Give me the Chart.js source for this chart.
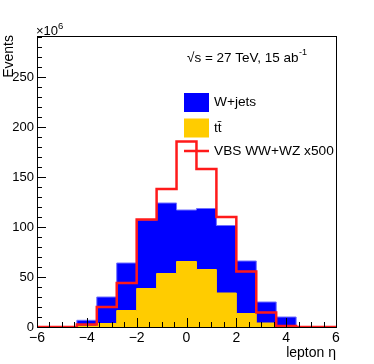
<!DOCTYPE html>
<html>
<head>
<meta charset="utf-8">
<script src="https://cdn.jsdelivr.net/npm/chart.js@4"></script>
<style>
  html, body { margin: 0; padding: 0; background: #fff; }
  #wrap { width: 374px; height: 364px; }
</style>
</head>
<body>
<div id="wrap"><canvas id="myChart" width="374" height="364"></canvas></div>
<script>
// lepton eta, 15 bins of 0.8 from -6 to 6
const binEdges = [-6, -5.2, -4.4, -3.6, -2.8, -2.0, -1.2, -0.4, 0.4, 1.2, 2.0, 2.8, 3.6, 4.4, 5.2, 6];
const ttbar = [0, 0, 1, 3.5, 16.5, 38.5, 53.5, 65.5, 57.5, 34, 13.5, 4, 0.5, 0, 0];
const wjets = [0, 0, 5.7, 26.5, 47.5, 68.5, 70.5, 51.5, 61, 67.5, 52.5, 21, 9.5, 0, 0];
const vbs = [0, 0, 2.5, 20, 44, 107.5, 138, 185.5, 158, 110, 55.5, 14.5, 1, 0, 0];
const xTicks = [-6, -4, -2, 0, 2, 4, 6];
const yTicks = [0, 50, 100, 150, 200, 250];

const FONT = 'Liberation Sans, Arial, Helvetica, sans-serif';

// histogram -> step points (left edge of each bin + closing right edge)
function steps(vals) {
  const pts = vals.map((v, i) => ({ x: binEdges[i], y: v }));
  pts.push({ x: binEdges[binEdges.length - 1], y: vals[vals.length - 1] });
  return pts;
}
const stackTotal = wjets.map((v, i) => v + ttbar[i]);

const data = {
  datasets: [
    {
      label: 'VBS WW+WZ x500',
      data: steps(vbs),
      borderColor: '#ff1a1a',
      borderWidth: 2.5,
      fill: false
    },
    {
      label: 'tt\u0304',
      data: steps(ttbar),
      borderColor: '#ffcc00',
      backgroundColor: '#ffcc00',
      borderWidth: 1,
      fill: 'origin'
    },
    {
      label: 'W+jets',
      data: steps(stackTotal),
      borderColor: '#7070ff',
      backgroundColor: '#0000ff',
      borderWidth: 1,
      fill: 'origin'
    }
  ]
};

// ROOT style frame, inward ticks, legend and labels
const rootDecor = {
  id: 'rootDecor',
  afterDraw(chart) {
    const ctx = chart.ctx;
    const a = chart.chartArea;
    const xs = chart.scales.x, ys = chart.scales.y;
    const L = Math.round(a.left), R = Math.round(a.right);
    const T = Math.round(a.top), B = Math.round(a.bottom);
    ctx.save();
    ctx.fillStyle = '#000';
    // frame
    ctx.fillRect(L, T, R - L, 1);
    ctx.fillRect(L, B, R - L + 1, 1);
    ctx.fillRect(L, T, 1, B - T);
    ctx.fillRect(R, T, 1, B - T);
    // y ticks
    for (let v = 0; v <= ys.max; v += 10) {
      const py = Math.round(ys.getPixelForValue(v));
      const len = v % 50 === 0 ? 9 : 5;
      ctx.fillRect(L, py, len, 1);
    }
    // x ticks
    for (let i = 0; i <= 24; i++) {
      const v = -6 + i * 0.5;
      const px = Math.min(Math.round(xs.getPixelForValue(v)), R);
      const len = i % 4 === 0 ? 9 : 5;
      ctx.fillRect(px, B - len, 1, len);
    }

    // exponent
    ctx.textBaseline = 'alphabetic';
    ctx.textAlign = 'left';
    ctx.font = '13px ' + FONT;
    ctx.fillText('\u00d710', 36, 35);
    ctx.font = '9.5px ' + FONT;
    ctx.fillText('6', 58, 29);

    // axis titles
    ctx.font = '14px ' + FONT;
    ctx.textAlign = 'right';
    ctx.fillText('lepton \u03b7', 336, 357);
    ctx.save();
    ctx.translate(13, 35);
    ctx.rotate(-Math.PI / 2);
    ctx.fillText('Events', 0, 0);
    ctx.restore();

    // energy / lumi
    ctx.textAlign = 'left';
    ctx.font = '13.5px ' + FONT;
    ctx.fillText('\u221as = 27 TeV, 15 ab', 187, 62);
    ctx.font = '9px ' + FONT;
    ctx.fillText('-1', 299, 55);

    // legend
    const ds = chart.data.datasets;
    const rows = [
      { d: ds[2], y: 102.5, box: true },
      { d: ds[1], y: 128, box: true },
      { d: ds[0], y: 151, box: false }
    ];
    ctx.font = '13.7px ' + FONT;
    ctx.textBaseline = 'middle';
    rows.forEach(r => {
      if (r.box) {
        ctx.fillStyle = r.d.backgroundColor;
        ctx.fillRect(184, r.y - 9.5, 25, 19);
      } else {
        ctx.strokeStyle = r.d.borderColor;
        ctx.lineWidth = 2.5;
        ctx.beginPath();
        ctx.moveTo(184, r.y);
        ctx.lineTo(209, r.y);
        ctx.stroke();
      }
      ctx.fillStyle = '#000';
      ctx.fillText(r.d.label, 214, r.y);
    });
    ctx.restore();
  }
};

const config = {
  type: 'line',
  data: data,
  options: {
    responsive: false,
    animation: false,
    events: [],
    layout: { padding: { left: 0, top: 36, right: 38, bottom: 0 } },
    elements: {
      point: { radius: 0 },
      line: { stepped: 'before', tension: 0 }
    },
    plugins: {
      legend: { display: false },
      tooltip: { enabled: false },
      title: { display: false }
    },
    scales: {
      x: {
        type: 'linear',
        min: -6,
        max: 6,
        afterBuildTicks: s => { s.ticks = xTicks.map(v => ({ value: v })); },
        afterFit: s => { s.height = 37; },
        grid: { display: false, drawTicks: false },
        border: { display: false },
        ticks: {
          color: '#000',
          padding: 3,
          maxRotation: 0,
          font: { family: FONT, size: 14 },
          callback: v => String(v).replace('-', '\u2212')
        }
      },
      y: {
        type: 'linear',
        min: 0,
        max: 291,
        afterBuildTicks: s => { s.ticks = yTicks.map(v => ({ value: v })); },
        afterFit: s => { s.width = 37; },
        grid: { display: false, drawTicks: false },
        border: { display: false },
        ticks: {
          color: '#000',
          padding: 3,
          font: { family: FONT, size: 13 }
        }
      }
    }
  },
  plugins: [rootDecor]
};

var myChart = new Chart(
  document.getElementById('myChart'),
  config
);
</script>
</body>
</html>
